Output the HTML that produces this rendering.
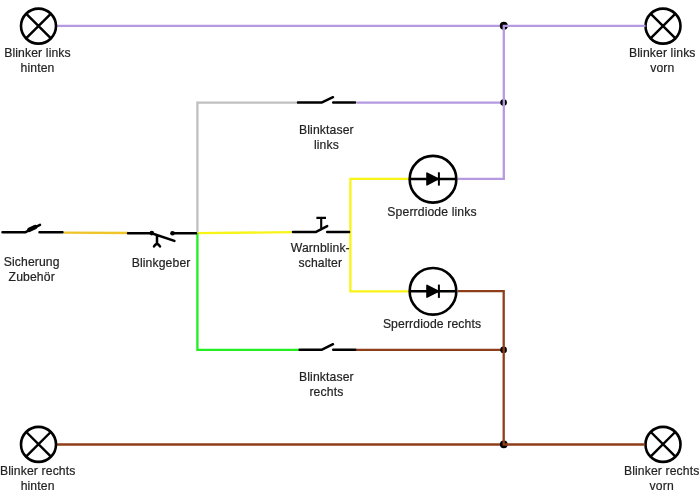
<!DOCTYPE html>
<html><head><meta charset="utf-8">
<style>
html,body{margin:0;padding:0;background:#fff;width:700px;height:500px;overflow:hidden}
svg{display:block}
text{font-family:"Liberation Sans",sans-serif;font-size:12.2px;fill:#222;text-anchor:middle;letter-spacing:0.12px;stroke:#222;stroke-width:0.2px}
.t{opacity:0.999;will-change:transform}
</style></head><body>
<svg width="700" height="500" viewBox="0 0 700 500">
<g fill="none" stroke-width="2.3" stroke-linecap="butt">
  <path d="M56.5 25.9H503.8M357 102.7H503.8" stroke="#b59ae2"/>
  <path d="M298.6 102.7H197.4V233.2" stroke="#c0c0c0"/>
  <path d="M63.5 232.6L128 233" stroke="#eec52a"/>
  <path d="M197.4 233.2L292.6 232.1M350.4 232.1V178.9H409M350.4 232.1V291.3H409" stroke="#f8f418"/>
  <path d="M197.4 233.2V349.85H298.6" stroke="#22ee22"/>
  <path d="M355.5 349.85H503.7M57 444.5H503.7" stroke="#8e3e18"/>
</g>
<g fill="none" stroke="#000" stroke-width="2.6">
  <!-- lamps -->
  <circle cx="38.5" cy="26.1" r="17.5"/>
  <circle cx="663" cy="26.1" r="17.5"/>
  <circle cx="38.5" cy="444.4" r="17.5"/>
  <circle cx="663" cy="444.4" r="17.5"/>
  <circle cx="433" cy="179.25" r="23.35"/>
  <circle cx="433" cy="291.3" r="23.35"/>
</g>
<g fill="none" stroke="#000" stroke-width="2.45">
  <path d="M26.3 13.8L50.7 38.2M50.7 13.8L26.3 38.2"/>
  <path d="M650.8 13.8L675.2 38.2M675.2 13.8L650.8 38.2"/>
  <path d="M26.3 432L50.7 456.4M50.7 432L26.3 456.4"/>
  <path d="M650.8 432L675.2 456.4M675.2 432L650.8 456.4"/>
  <!-- diodes -->
  <path d="M409 178.9H457"/><path d="M438.9 172.3V185.6" stroke-width="2"/>
  <path d="M409 291.2H457"/><path d="M438.9 284.6V297.9" stroke-width="2"/>
  <!-- warnblink T -->
  <path d="M321.2 228.5V217.9M316.4 217.9H326" stroke-width="2.1"/>
</g>
<g fill="none" stroke="#000" stroke-width="2.5" stroke-linecap="round" stroke-linejoin="round">
  <!-- fuse -->
  <path d="M2.5 232.2H25.6L40 224.8M39.5 232.2H62.5"/>
  <!-- blinkgeber -->
  <path d="M128 233.2H151.6L174.4 240.9M172.5 233.2H196M157 236V243.6M154 246.4Q155.5 244.2 157 243.8Q158.5 244.2 160 246.4"/>
  <!-- blinktaser links -->
  <path d="M298 102.6H321.5L333 97.2M333.2 102.6H355.2"/>
  <!-- blinktaser rechts -->
  <path d="M299.5 349.85H321.5L333 344.2M333.2 349.85H355.2"/>
  <!-- warnblink -->
  <path d="M293 232.1H315.6L327.2 226.1M327.2 232.1H349.1"/>
</g>
<g fill="#000">
  <path d="M427 173.1L438.3 178.9L427 184.8Z" stroke="#000" stroke-width="1.6" stroke-linejoin="round"/>
  <path d="M427 285.4L438.3 291.2L427 297.1Z" stroke="#000" stroke-width="1.6" stroke-linejoin="round"/>
  <circle cx="151.8" cy="233.1" r="2.3"/>
  <circle cx="172.5" cy="233.2" r="2.3"/>
  <circle cx="503.8" cy="25.8" r="4"/>
  <circle cx="503.6" cy="102.6" r="3.3"/>
  <circle cx="503.6" cy="349.9" r="3.3"/>
  <circle cx="503.8" cy="444.3" r="3.9"/>
  <rect x="26.8" y="226.2" width="11" height="4.4" rx="2.2" transform="rotate(-26 32.3 228.4)"/>
</g>
<g fill="none" stroke-width="2.3" stroke-linejoin="miter">
  <path d="M645.5 25.9H503.8V178.9H458" stroke="#b59ae2"/>
  <path d="M458 291.2H503.7V444.5H645" stroke="#8e3e18"/>
</g>
<g class="t">
<text x="37.5" y="56.6">Blinker links</text>
<text x="37.5" y="72.2">hinten</text>
<text x="662.3" y="56.6">Blinker links</text>
<text x="662.3" y="72.2">vorn</text>
<text x="326.4" y="133.6">Blinktaser</text>
<text x="326.4" y="149">links</text>
<text x="31.7" y="266.4">Sicherung</text>
<text x="31.7" y="281.4">Zubehör</text>
<text x="161.1" y="266.6">Blinkgeber</text>
<text x="320.3" y="251.6">Warnblink-</text>
<text x="320.3" y="267">schalter</text>
<text x="432" y="215.7">Sperrdiode links</text>
<text x="432" y="328">Sperrdiode rechts</text>
<text x="326.4" y="380.7">Blinktaser</text>
<text x="326.4" y="396.4">rechts</text>
<text x="37.7" y="475.3">Blinker rechts</text>
<text x="37.6" y="490.3">hinten</text>
<text x="661.7" y="475.3">Blinker rechts</text>
<text x="661.7" y="490.3">vorn</text>
</g>
</svg>
</body></html>
